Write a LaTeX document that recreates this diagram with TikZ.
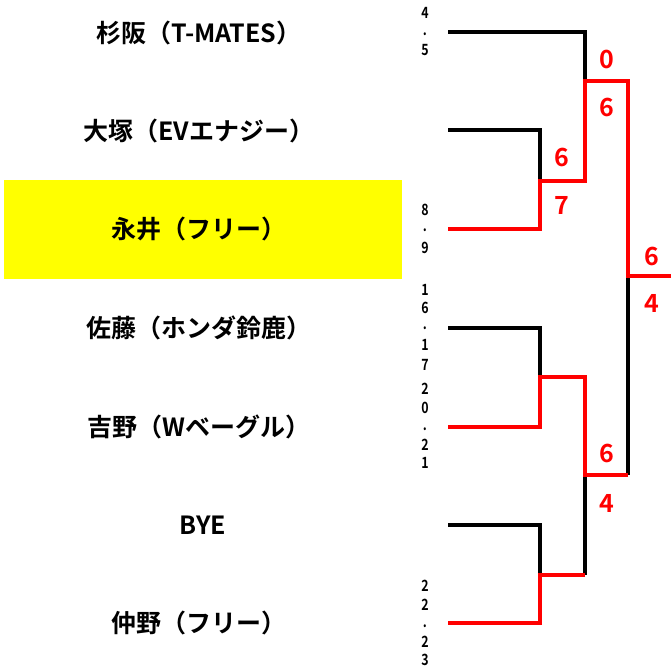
\documentclass[tikz,border=0pt]{standalone}
\usepackage{fontspec}
\newfontfamily\jpbold{Noto Sans CJK JP Bold}
\definecolor{winred}{RGB}{255,0,0}
\definecolor{hilite}{RGB}{255,255,0}
\tikzset{
  teamname/.style={font=\jpbold\fontsize{25}{25}\selectfont, inner sep=0pt, anchor=center},
  scorelbl/.style={font=\jpbold\fontsize{25}{25}\selectfont, text=winred, inner sep=0pt, anchor=center},
  seedno/.style={font=\jpbold\fontsize{15.5}{15.5}\selectfont, inner sep=0pt, anchor=center},
  loseline/.style={line width=4pt, draw=black, line join=miter},
  winline/.style={line width=4pt, draw=winred, line join=miter},
}
\newcommand{\sd}[1]{\scalebox{0.8}[1]{#1}}
\begin{document}
\begin{tikzpicture}[x=1pt,y=-1pt]
\useasboundingbox (0,0) rectangle (671,670);
% highlight
\fill[hilite] (4,180) rectangle (402,279);
% names
\node[teamname] (n1) at (199,33) {杉阪（T-MATES）};
\node[teamname] (n2) at (199,131) {大塚（EVエナジー）};
\node[teamname] (n3) at (199,229) {永井（フリー）};
\node[teamname] (n4) at (199,328) {佐藤（ホンダ鈴鹿）};
\node[teamname] (n5) at (199,427) {吉野（Wベーグル）};
\node[teamname] (n6) at (203,525) {BYE};
\node[teamname] (n7) at (199,623) {仲野（フリー）};
% small numbers
\foreach \c/\y in {4/13,./34,5/50, 8/210,./230,9/248,
                   1/290,6/308,./328,1/345,7/365,
                   2/389,0/408,./429,2/445,1/463,
                   2/586,2/605,./626,2/642,3/660}
  \node[seedno] at (425,\y) {\sd{\c}};
% coordinates
\coordinate (e1) at (448,32);
\coordinate (e2) at (448,130);
\coordinate (e3) at (448,229);
\coordinate (e4) at (448,328);
\coordinate (e5) at (448,427);
\coordinate (e6) at (448,525);
\coordinate (e7) at (448,623);
\coordinate (a1) at (585,32);
\coordinate (a2) at (540,130);
\coordinate (a3) at (540,229);
\coordinate (a4) at (540,328);
\coordinate (a5) at (540,427);
\coordinate (a6) at (540,525);
\coordinate (a7) at (540,623);
\coordinate (mA) at (540,181);
\coordinate (mAr) at (585,181);
\coordinate (mB) at (540,377);
\coordinate (mBr) at (585,377);
\coordinate (mC) at (540,575);
\coordinate (mCr) at (585,575);
\coordinate (mD) at (585,81);
\coordinate (mDr) at (628,81);
\coordinate (mE) at (585,475);
\coordinate (mEr) at (628,475);
\coordinate (mF) at (628,276);
\coordinate (champ) at (671,276);
% losing lines
\draw[loseline] (e1) -- (a1) -- (mD);
\draw[loseline] (e2) -- (a2) -- (mA);
\draw[loseline] (e4) -- (a4) -- (mB);
\draw[loseline] (e6) -- (a6) -- (mC);
\draw[loseline] (mCr) -- (mE);
\draw[loseline] (mEr) -- (mF);
% winning lines
\draw[winline] (e3) -- (a3) -- (mA) -- (mAr) -- (mD) -- (mDr) -- (mF) -- (champ);
\draw[winline] (e5) -- (a5) -- (mB) -- (mBr) -- (mE) -- (mEr);
\draw[winline] (e7) -- (a7) -- (mC) -- (mCr);
% scores
\node[scorelbl] (s1) at (562,157) {6};
\node[scorelbl] (s2) at (562,205) {7};
\node[scorelbl] (s3) at (607,59) {0};
\node[scorelbl] (s4) at (607,107) {6};
\node[scorelbl] (s5) at (607,453) {6};
\node[scorelbl] (s6) at (607,503) {4};
\node[scorelbl] (s7) at (652,256) {6};
\node[scorelbl] (s8) at (652,303) {4};
\end{tikzpicture}
\end{document}
